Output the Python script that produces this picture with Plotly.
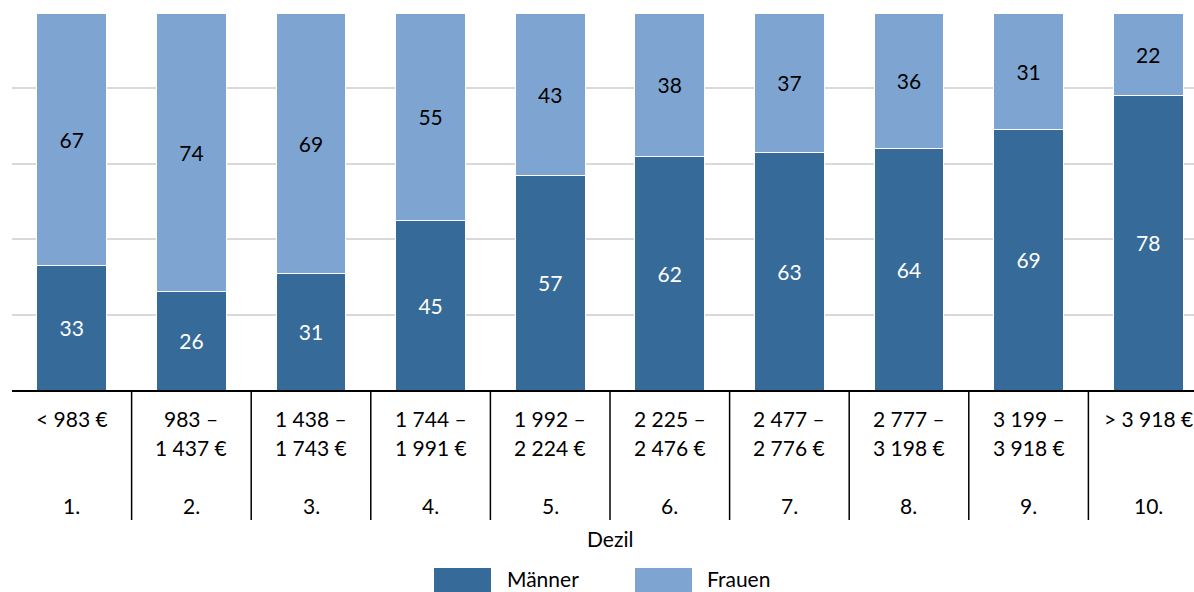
import plotly.graph_objects as go

range_top = ["< 983 €", "983 –", "1 438 –", "1 744 –", "1 992 –", "2 225 –", "2 477 –", "2 777 –", "3 199 –", "> 3 918 €"]
range_bottom = ["", "1 437 €", "1 743 €", "1 991 €", "2 224 €", "2 476 €", "2 776 €", "3 198 €", "3 918 €", ""]
deciles = ["1.", "2.", "3.", "4.", "5.", "6.", "7.", "8.", "9.", "10."]
maenner = [33, 26, 31, 45, 57, 62, 63, 64, 69, 78]
frauen = [67, 74, 69, 55, 43, 38, 37, 36, 31, 22]

DARK = "#366a98"
LIGHT = "#7ea5d2"
FONT = "Lato"
W, H = 1194, 592
L, R, T, B = 12, 0, 13, 202
plot_h = H - T - B
plot_w = W - L - R

fig = go.Figure()
fig.add_trace(go.Bar(x=list(range(len(deciles))), y=maenner, name="Männer",
                     marker=dict(color=DARK, line=dict(color="white", width=1)),
                     text=[str(v) for v in maenner], textposition="inside", insidetextanchor="middle",
                     textfont=dict(color="white", size=21, family=FONT), showlegend=False))
fig.add_trace(go.Bar(x=list(range(len(deciles))), y=frauen, name="Frauen",
                     marker=dict(color=LIGHT, line=dict(color="white", width=1)),
                     text=[str(v) for v in frauen], textposition="inside", insidetextanchor="middle",
                     textfont=dict(color="black", size=21, family=FONT), showlegend=False))

def py(px):
    return (H - B - px) / plot_h

def pxx(px):
    return (px - L) / plot_w

LBL = dict(size=21, family=FONT, color="black")
# category labels
for i, d in enumerate(deciles):
    fig.add_annotation(x=i, y=py(418), xref="x", yref="paper", text=range_top[i], showarrow=False,
                       font=LBL, yanchor="middle")
    if range_bottom[i]:
        fig.add_annotation(x=i, y=py(447), xref="x", yref="paper", text=range_bottom[i], showarrow=False,
                           font=LBL, yanchor="middle")
    fig.add_annotation(x=i, y=py(505), xref="x", yref="paper", text=d, showarrow=False,
                       font=LBL, yanchor="middle")

# separators
for i in range(len(deciles) - 1):
    fig.add_shape(type="line", xref="x", yref="paper", x0=i + 0.5, x1=i + 0.5, y0=0, y1=py(520),
                  line=dict(color="black", width=1.5))

# axis title
fig.add_annotation(x=pxx(610), y=py(538), xref="paper", yref="paper", text="Dezil", showarrow=False,
                   font=LBL, yanchor="middle")

# legend
fig.add_shape(type="rect", xref="paper", yref="paper", x0=pxx(434), x1=pxx(491), y0=py(568), y1=py(595),
              fillcolor=DARK, line=dict(width=0))
fig.add_shape(type="rect", xref="paper", yref="paper", x0=pxx(635), x1=pxx(692), y0=py(568), y1=py(595),
              fillcolor=LIGHT, line=dict(width=0))
fig.add_annotation(x=pxx(505), y=py(578), xref="paper", yref="paper", text="Männer", showarrow=False,
                   xanchor="left", yanchor="middle", font=dict(size=21, family=FONT, color="black"))
fig.add_annotation(x=pxx(705), y=py(578), xref="paper", yref="paper", text="Frauen", showarrow=False,
                   xanchor="left", yanchor="middle", font=dict(size=21, family=FONT, color="black"))

fig.update_layout(
    barmode="stack", bargap=0.415, width=W, height=H,
    margin=dict(l=L, r=R, t=T, b=B),
    plot_bgcolor="white", paper_bgcolor="white",
    uniformtext=dict(mode="show", minsize=10),
    font=dict(family=FONT),
)
fig.update_xaxes(showticklabels=False, showline=True, linecolor="black", linewidth=1.5, ticks="",
                 range=[-0.5, 9.383], showgrid=False, zeroline=False)
fig.update_yaxes(range=[0, 100], dtick=20, showticklabels=False, showgrid=True, gridcolor="#d9d9d9",
                 gridwidth=1.5, zeroline=False)

fig.write_html("out.html", config={"displayModeBar": False},
               post_script="document.body.style.margin='0';document.body.style.overflow='hidden';")
